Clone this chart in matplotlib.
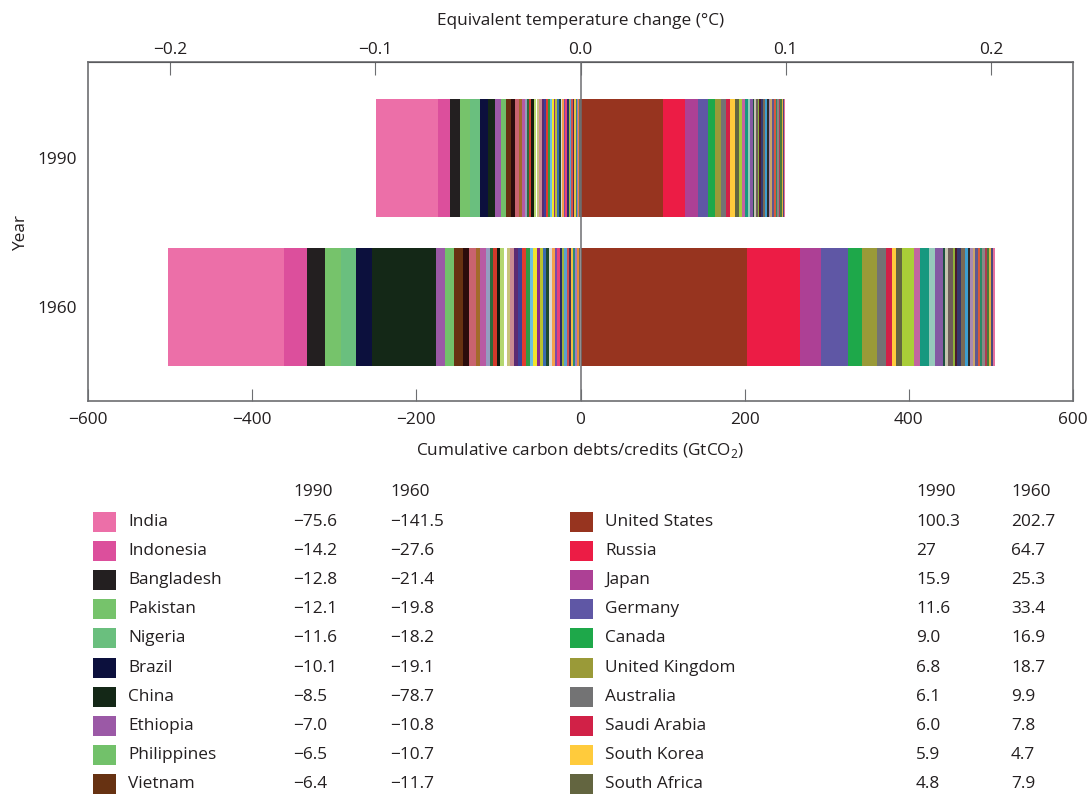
import numpy as np
import matplotlib.pyplot as plt
from matplotlib.patches import Rectangle

plt.rcParams['font.family'] = ['Open Sans', 'DejaVu Sans']

years = ['1990', '1960']

# largest debtors (negative) and creditors (positive)
neg_names = ['India', 'Indonesia', 'Bangladesh', 'Pakistan', 'Nigeria', 'Brazil',
             'China', 'Ethiopia', 'Philippines', 'Vietnam']
neg_1990 = [-75.6, -14.2, -12.8, -12.1, -11.6, -10.1, -8.5, -7.0, -6.5, -6.4]
neg_1960 = [-141.5, -27.6, -21.4, -19.8, -18.2, -19.1, -78.7, -10.8, -10.7, -11.7]
neg_colors = ['#ec6fa8', '#dc4f9c', '#231f20', '#76c36b', '#6abf7e', '#0c103d',
              '#142817', '#9b59a6', '#72c16a', '#673212']

pos_names = ['United States', 'Russia', 'Japan', 'Germany', 'Canada', 'United Kingdom',
             'Australia', 'Saudi Arabia', 'South Korea', 'South Africa']
pos_1990 = [100.3, 27, 15.9, 11.6, 9.0, 6.8, 6.1, 6.0, 5.9, 4.8]
pos_1960 = [202.7, 64.7, 25.3, 33.4, 16.9, 18.7, 9.9, 7.8, 4.7, 7.9]
pos_colors = ['#97341f', '#ec1c45', '#ad4095', '#5f57a5', '#1ea84a', '#9a9a38',
              '#737374', '#d12147', '#ffcb3c', '#636540']

# remaining smaller countries
neg_tail_colors = ['#2b0c0c', '#c9636f', '#a36a2c', '#b85aa3', '#959cc0', '#2e6a3c',
                   '#d4392b', '#121a0f', '#b4d770', '#ffffff', '#c9c37c', '#c98a92',
                   '#5b2a72', '#3d3f99', '#e33b2e', '#2f9a46', '#6cc0e0', '#f2e52c',
                   '#8c2a8a', '#b9c22e', '#3a6ab0', '#1e4a2e', '#d9d9d9', '#f5a04a',
                   '#7a4aa8', '#e6407c', '#2a2a66', '#9fb63a', '#5aa0d0', '#d05050',
                   '#4a2a5a', '#f0c040', '#2a8a7a', '#a07ac0', '#e88a3a', '#6a6a6a']
neg_tail_1990 = [4.9, 3.7, 3.7, 3.7, 3.0, 2.4, 3.0, 3.2, 2.0, 1.2, 3.0,
                 2.8, 2.6, 2.6, 2.5, 2.4, 2.3, 2.3, 2.2, 2.2, 2.1, 2.1, 2.0, 2.0,
                 1.9, 1.9, 1.8, 1.8, 1.8, 1.7, 1.7, 1.6, 1.6, 1.5, 1.5, 1.4]
neg_tail_1960 = [7.3, 8.5, 4.9, 7.3, 4.9, 3.7, 4.9, 3.7, 3.7, 3.7, 3.7,
                 5.5, 5.0, 5.0, 4.6, 4.4, 4.2, 4.5, 4.0, 3.8, 3.6, 3.5, 3.4, 3.3,
                 3.2, 3.0, 3.0, 2.9, 2.8, 2.7, 2.6, 2.5, 2.4, 2.3, 2.2, 2.0]

pos_tail_colors = ['#a9cd38', '#c2649f', '#17987f', '#96c9bb', '#8459a3', '#1e5040',
                   '#c5c3b0', '#6e5e5a', '#8fb23a', '#4b1a2c', '#33386e', '#7a6a55',
                   '#3d9fd0', '#2b2b2b', '#a88ab0', '#c9a46a', '#5e5890', '#d65a3a',
                   '#2a8a66', '#888888', '#b03a50', '#4a7a3a', '#e2b040', '#4a4a7a',
                   '#e6709c']
pos_tail_1990 = [3.7, 2.8, 4.6, 2.4, 2.8, 1.5, 2.2, 2.6, 1.8, 2.4, 2.6, 2.2, 2.0,
                 2.4, 2.0, 2.2, 1.9, 2.1, 1.8, 2.0, 1.7, 1.8, 1.6, 1.5, 1.4]
pos_tail_1960 = [14.2, 7.3, 10.5, 8.1, 9.7, 2.0, 4.5, 5.0, 2.5, 3.0, 5.2, 4.0, 3.5,
                 2.8, 3.6, 2.6, 3.2, 3.0, 2.9, 3.3, 2.7, 2.5, 2.4, 2.3, 2.2]

GT_PER_DEG = 2500.0
grey = '#6d6e71'
ink = '#231f20'
fs = 12.4

fig = plt.figure(figsize=(10.91, 7.94), dpi=100)
W, H = 1091, 794
ax = fig.add_axes([88 / W, 1 - 401 / H, (1073 - 88) / W, (401 - 62) / H])


def offsets(vals):
    vals = np.abs(np.array(vals))
    return vals, np.concatenate([[0], np.cumsum(vals)[:-1]])


for y, nv, nt, pv, pt in [(1, neg_1990, neg_tail_1990, pos_1990, pos_tail_1990),
                          (0, neg_1960, neg_tail_1960, pos_1960, pos_tail_1960)]:
    vals, lefts = offsets(list(nv) + list(nt))
    ax.barh(y, vals, left=-vals.sum() + lefts, height=0.79,
            color=neg_colors + neg_tail_colors, linewidth=0)
    vals, lefts = offsets(list(pv) + list(pt))
    ax.barh(y, vals, left=lefts, height=0.79,
            color=pos_colors + pos_tail_colors, linewidth=0)

ax.axvline(0, color=grey, lw=1.1, zorder=3)
ax.set_xlim(-600, 600)
ax.set_ylim(-0.631, 1.644)
ax.set_xticks(np.arange(-600, 601, 200))
ax.set_yticks([1, 0])
ax.set_yticklabels(years)
ax.tick_params(direction='in', length=9, color=grey, labelsize=fs, labelcolor=ink, pad=8)
ax.tick_params(axis='y', length=0, pad=8)
for s in ax.spines.values():
    s.set_color(grey)
    s.set_linewidth(1.2)
ax.set_xlabel('Cumulative carbon debts/credits (GtCO$_\\mathregular{2}$)', fontsize=fs,
              color=ink, labelpad=9)
ax.set_ylabel('Year', fontsize=fs, color=ink, labelpad=6)

top = ax.secondary_xaxis('top', functions=(lambda x: x / GT_PER_DEG, lambda t: t * GT_PER_DEG))
top.set_xticks([-0.2, -0.1, 0.0, 0.1, 0.2])
top.set_xticklabels(['\u22120.2', '\u22120.1', '0.0', '0.1', '0.2'])
top.tick_params(direction='in', length=9, color=grey, labelsize=fs, labelcolor=ink, pad=3)
top.set_xlabel('Equivalent temperature change (\u00b0C)', fontsize=fs, color=ink, labelpad=12)

# table legend below the chart
tab = fig.add_axes([0, 0, 1, 1], zorder=-1)
tab.set_xlim(0, W)
tab.set_ylim(H, 0)
tab.axis('off')


def fmt(v):
    s = str(v) if isinstance(v, int) else '%.1f' % v
    return s.replace('-', '\u2212')


txt = dict(fontsize=fs, color=ink, va='center')
for x0, names, v90, v60, cols, c1, c2 in [
        (93, neg_names, neg_1990, neg_1960, neg_colors, 293, 390),
        (570, pos_names, pos_1990, pos_1960, pos_colors, 916, 1011)]:
    tab.text(c1, 492, years[0], **txt)
    tab.text(c2, 492, years[1], **txt)
    for i, name in enumerate(names):
        yy = 522 + i * 29.1
        tab.add_patch(Rectangle((x0, yy - 10), 23, 20, color=cols[i], lw=0))
        tab.text(x0 + 35, yy, name, **txt)
        tab.text(c1, yy, fmt(v90[i]), **txt)
        tab.text(c2, yy, fmt(v60[i]), **txt)

fig.savefig('out.png', dpi=100)
